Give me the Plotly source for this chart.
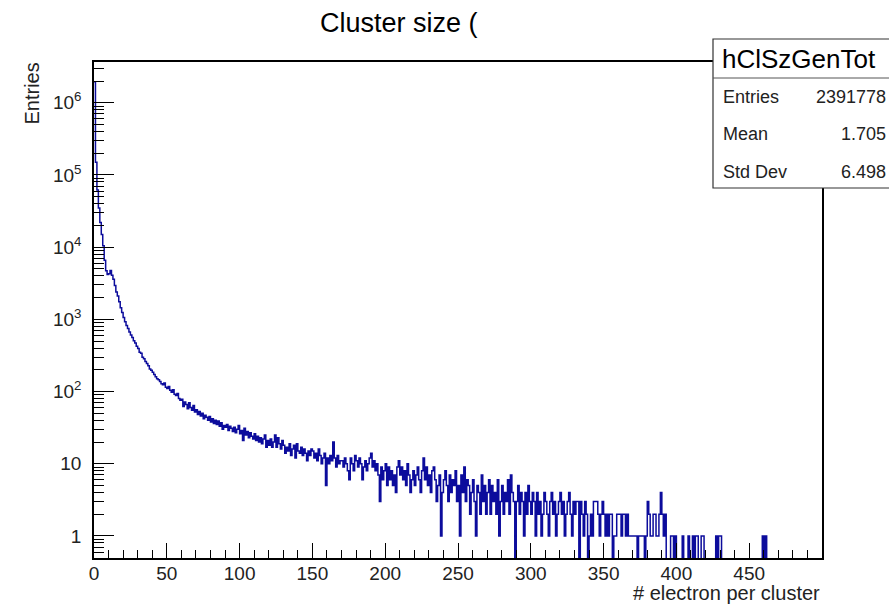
import numpy as np
import plotly.graph_objects as go

# ---------------- data ----------------
title_text = "Cluster size ("
hist_name = "hClSzGenTot"
stat_labels = ["Entries", "Mean", "Std Dev"]
stat_values = ["2391778", "1.705", "6.498"]
x_title = "# electron per cluster"
y_title = "Entries"

bin_low = 0
bin_width = 1

counts = [
    1960000, 150000, 62000, 35000, 22000, 15000, 10500, 6600, 4700, 4200,
    4300, 4750, 4100, 3600, 2950, 2400, 2100, 1750, 1450, 1250,
    1060, 930, 820, 750, 670, 610, 560, 505, 470, 425,
    395, 350, 340, 300, 285, 262, 245, 228, 205, 198,
    185, 172, 160, 150, 146, 138, 128, 124, 132, 115,
    110, 118, 104, 98, 106, 92, 88, 94, 80, 76,
    78, 62, 72, 66, 58, 70, 60, 55, 64, 52,
    56, 48, 53, 46, 50, 42, 47, 44, 40, 45,
    38, 42, 36, 40, 35, 39, 33, 37, 30, 34,
    32, 35, 29, 33, 31, 28, 32, 27, 30, 34,
    26, 29, 21, 31, 25, 28, 23, 27, 24, 22,
    26, 21, 24, 20, 23, 19, 22, 25, 17, 21,
    18, 22, 17, 20, 25, 17, 23, 19, 16, 21,
    18, 14, 17, 15, 19, 13, 16, 18, 12, 19,
    15, 14, 17, 13, 16, 14, 11, 15, 13, 16,
    15, 12, 14, 11, 16, 13, 10, 12, 14, 5,
    12, 10, 13, 11, 20, 12, 9, 13, 10, 11,
    11, 9, 12, 10, 8, 6, 12, 10, 8, 13,
    11, 9, 12, 10, 6, 9, 11, 8, 10, 12,
    14, 9, 11, 8, 10, 7, 3, 9, 6, 8,
    10, 5, 9, 6, 8, 5, 7, 4, 9, 11,
    7, 9, 6, 8, 5, 10, 7, 4, 6, 8,
    5, 7, 9, 6, 4, 8, 12, 6, 9, 5,
    7, 4, 8, 9, 6, 3, 5, 7, 1, 4,
    6, 8, 5, 3, 7, 4, 6, 5, 8, 3,
    5, 1, 7, 4, 9, 3, 6, 5, 2, 4,
    6, 3, 1, 5, 4, 2, 7, 3, 5, 2,
    4, 6, 2, 5, 3, 4, 2, 6, 1, 3,
    5, 2, 4, 3, 6, 2, 7, 4, 3, 0,
    3, 5, 2, 4, 3, 1, 4, 2, 5, 3,
    2, 4, 3, 1, 4, 2, 3, 1, 2, 4,
    3, 2, 1, 3, 4, 2, 3, 1, 2, 3,
    4, 2, 3, 1, 2, 3, 4, 2, 1, 3,
    2, 3, 3, 0, 3, 2, 1, 3, 2, 0,
    1, 2, 1, 3, 3, 3, 2, 1, 2, 3,
    2, 1, 2, 1, 2, 2, 0, 1, 1, 2,
    2, 2, 1, 2, 2, 1, 2, 1, 1, 1,
    1, 1, 1, 0, 1, 1, 1, 1, 0, 1,
    3, 2, 1, 1, 2, 2, 1, 1, 2, 4,
    2, 1, 2, 0, 0, 0, 1, 1, 0, 1,
    0, 0, 0, 0, 1, 0, 0, 0, 1, 0,
    0, 1, 0, 1, 1, 0, 0, 1, 1, 0,
    0, 0, 0, 0, 0, 0, 0, 1, 0, 1,
    1, 0, 0, 0, 0, 0, 0, 0, 0, 0,
    0, 0, 0, 0, 0, 0, 0, 0, 0, 0,
    0, 0, 0, 0, 0, 0, 0, 0, 0, 1,
    0, 1, 0, 0, 0, 0, 0, 0, 0, 0,
    0, 0, 0, 0, 0, 0, 0, 0, 0, 0,
    0, 0, 0, 0, 0, 0, 0, 0, 0, 0,
    0, 0, 0, 0, 0, 0, 0, 0, 0, 0,
]

x_tick_vals = [0, 50, 100, 150, 200, 250, 300, 350, 400, 450]
y_tick_vals = [1, 10, 100, 1000, 10000, 100000, 1000000]
y_tick_text = ["1", "10", "10<sup>2</sup>", "10<sup>3</sup>",
               "10<sup>4</sup>", "10<sup>5</sup>", "10<sup>6</sup>"]

# ---------------- figure ----------------
W, H = 889, 606
L, R, T, B = 94, 822, 62, 558
FONT = "Liberation Sans, Arial, Helvetica, sans-serif"
LINE_COL = "#0c0c9c"

c = np.array(counts, dtype=float)
edges = bin_low + bin_width * np.arange(len(c) + 1)
y_plot = np.where(c > 0, c, 1e-3)          # empty bins drop below the frame
xs = edges
ys = np.append(y_plot, y_plot[-1])

fig = go.Figure()
fig.add_trace(go.Scatter(
    x=xs, y=ys, mode="lines", line=dict(shape="hv", color=LINE_COL, width=1.5),
    hoverinfo="skip", showlegend=False))


def px(xp):
    return (xp - L) / (R - L)


def py(yp):
    return (B - yp) / (B - T)


ann = []
ann.append(dict(text=title_text, x=px(318), y=py(23), xref="paper", yref="paper",
                xanchor="left", yanchor="middle", showarrow=False,
                font=dict(family=FONT, size=27, color="black")))
ann.append(dict(text=y_title, x=px(31.5), y=py(61), xref="paper", yref="paper",
                xanchor="center", yanchor="top", textangle=-90, showarrow=False,
                font=dict(family=FONT, size=20, color="#222222")))
ann.append(dict(text=x_title, x=px(822), y=py(593), xref="paper", yref="paper",
                xanchor="right", yanchor="middle", showarrow=False,
                font=dict(family=FONT, size=20, color="#222222")))
ann.append(dict(text=hist_name, x=px(720), y=py(59), xref="paper", yref="paper",
                xanchor="left", yanchor="middle", showarrow=False,
                font=dict(family=FONT, size=26, color="black")))
row_y = [97, 134, 172]
for lab, val, yy in zip(stat_labels, stat_values, row_y):
    ann.append(dict(text=lab, x=px(721), y=py(yy), xref="paper", yref="paper",
                    xanchor="left", yanchor="middle", showarrow=False,
                    font=dict(family=FONT, size=18, color="#222222")))
    ann.append(dict(text=val, x=px(888), y=py(yy), xref="paper", yref="paper",
                    xanchor="right", yanchor="middle", showarrow=False,
                    font=dict(family=FONT, size=18, color="#222222")))

shapes = [
    dict(type="rect", xref="paper", yref="paper", x0=px(713), x1=px(900),
         y0=py(188), y1=py(39), fillcolor="white",
         line=dict(color="#333333", width=1.2), layer="above"),
    dict(type="line", xref="paper", yref="paper", x0=px(713), x1=px(900),
         y0=py(78), y1=py(78), line=dict(color="#555555", width=1), layer="above"),
]

fig.update_layout(
    width=W, height=H,
    margin=dict(l=L, r=W - R, t=T, b=H - B, pad=0),
    paper_bgcolor="white", plot_bgcolor="white",
    font=dict(family=FONT, color="black"),
    annotations=ann, shapes=shapes, showlegend=False,
)
fig.update_xaxes(
    range=[0, 500], showgrid=False, zeroline=False,
    showline=True, linecolor="black", linewidth=1.5, mirror=True,
    tickmode="array", tickvals=x_tick_vals,
    ticks="inside", ticklen=15, tickcolor="black", tickwidth=1,
    tickfont=dict(family=FONT, size=19, color="#222222"),
    ticklabelstandoff=-3,
    minor=dict(tickmode="linear", tick0=0, dtick=10, ticks="inside",
               ticklen=8, tickcolor="black", tickwidth=1, showgrid=False),
)
fig.update_yaxes(
    type="log", range=[-0.305, 6.565], showgrid=False, zeroline=False,
    showline=True, linecolor="black", linewidth=1.5, mirror=True,
    tickmode="array", tickvals=y_tick_vals, ticktext=y_tick_text,
    ticks="inside", ticklen=20, tickcolor="black", tickwidth=1,
    tickfont=dict(family=FONT, size=19, color="#222222"),
    ticklabelstandoff=7,
    minor=dict(dtick="D1", ticks="inside", ticklen=10, tickcolor="black",
               tickwidth=1, showgrid=False),
)

fig.write_html("out.html")
